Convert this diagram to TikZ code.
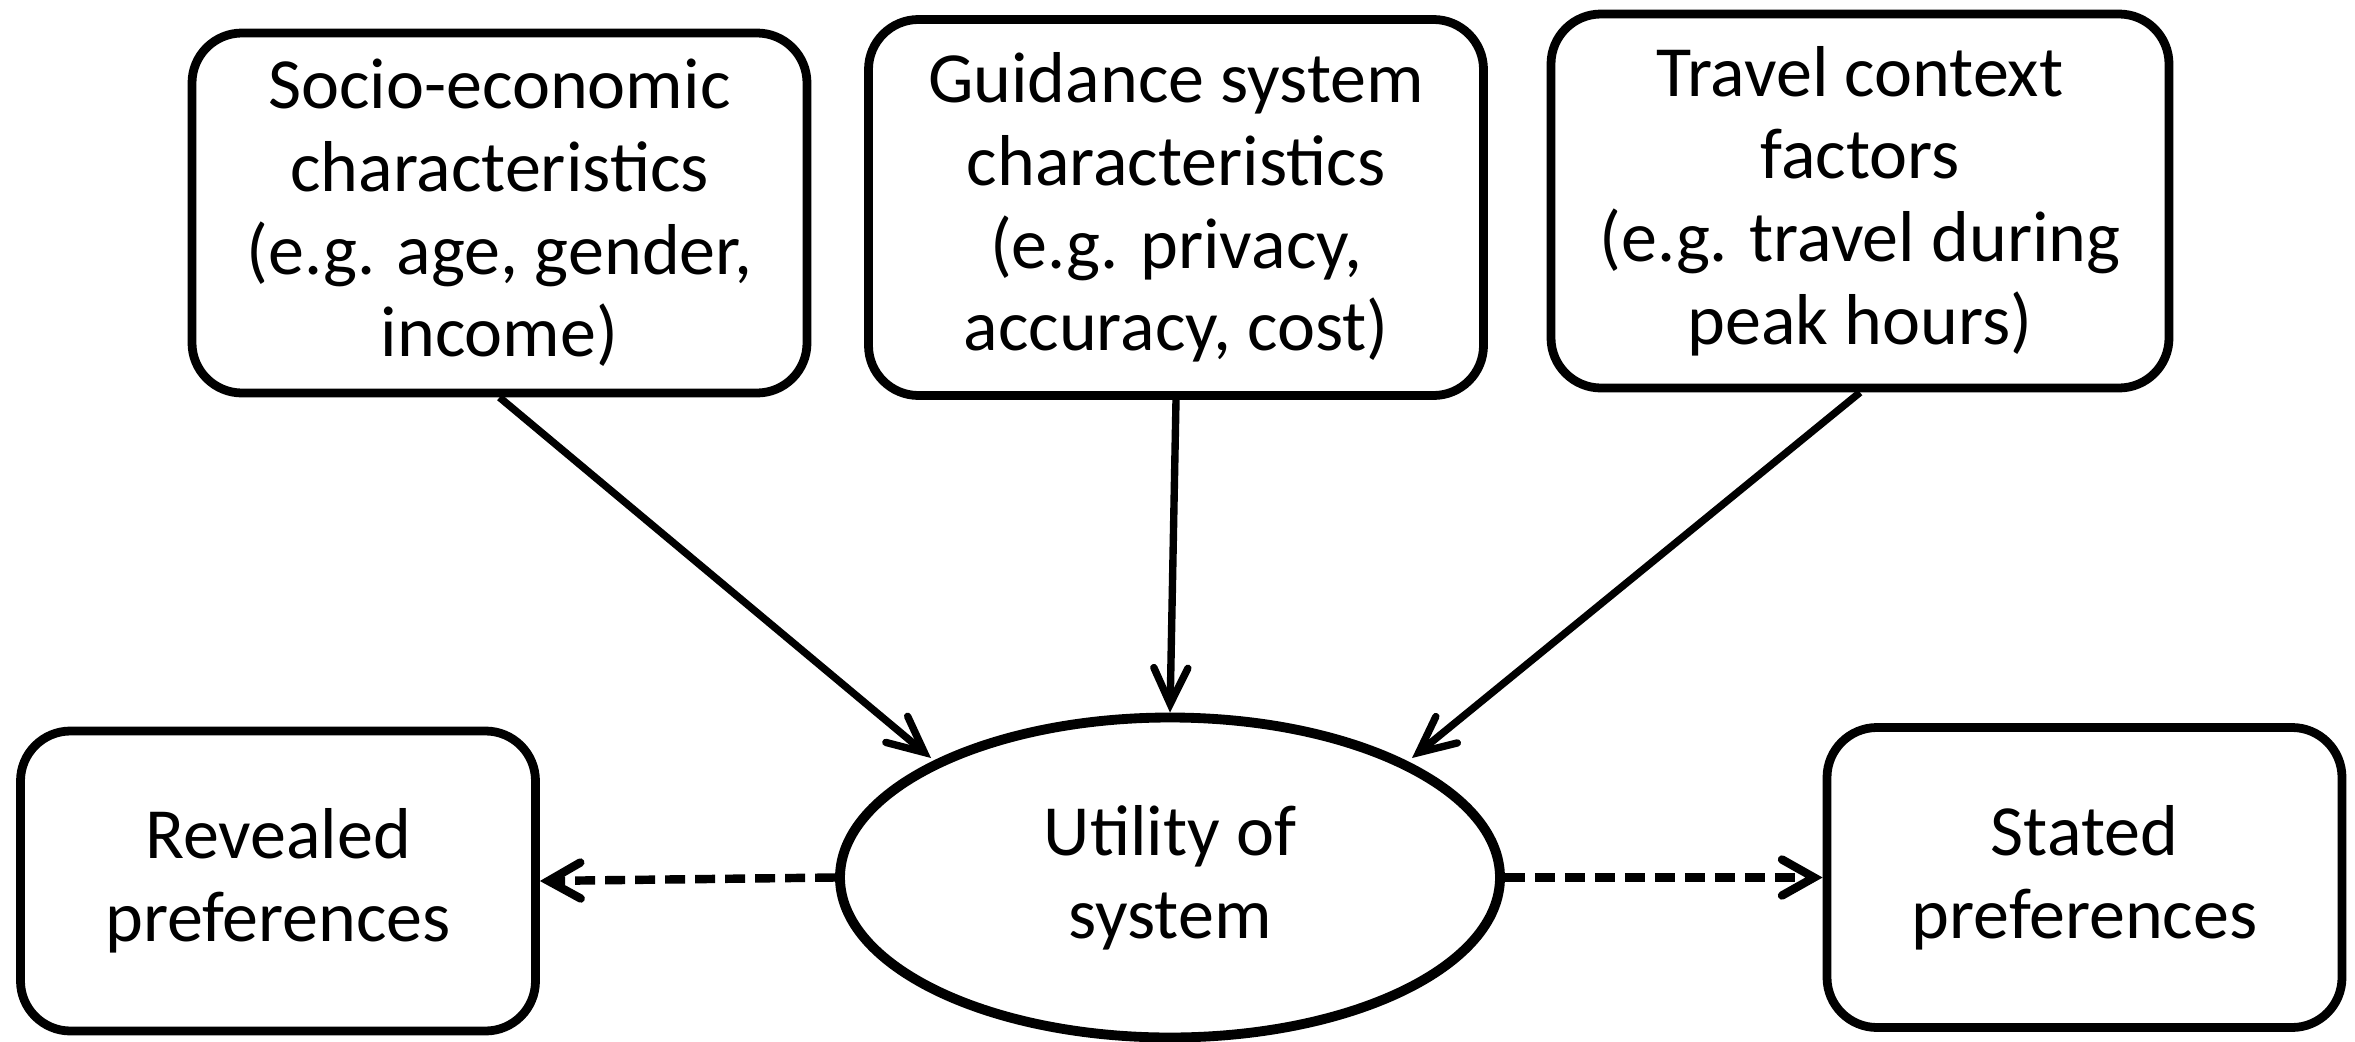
\documentclass[tikz,border=0pt]{standalone}
\usepackage{fontspec}
\setmainfont{Carlito}
\usepackage{tikz}
\usetikzlibrary{arrows.meta,positioning,shapes.geometric}
\tikzset{
  utilbox/.style={
    draw,
    rounded corners=0.5cm,
    line width=2.5pt,
    align=center,
    inner sep=0pt,
    font=\fontsize{20.5}{23.5}\selectfont
  },
  utilfactor/.style={utilbox,minimum width=6.15cm,minimum height=3.6cm},
  utilpref/.style={utilbox,minimum width=5.15cm,minimum height=3.0cm},
  utilcore/.style={ellipse,draw,line width=2.8pt,align=center,inner sep=0pt,
                   minimum width=6.6cm,minimum height=3.2cm,
                   font=\fontsize{20.5}{23.5}\selectfont},
  utilflow/.style={-{Straight Barb[length=3.6mm,width=3.4mm,line cap=round]},
                   line width=2.1pt},
  utilmeasure/.style={-{Straight Barb[length=3.2mm,width=3.6mm,line cap=round]},
                      line width=2.4pt,dash pattern=on 2mm off 1mm}
}
\begin{document}
\begin{tikzpicture}[x=1cm,y=1cm]
  \useasboundingbox (0,0) rectangle (23.55,10.41);

  \node[utilfactor] (socio) at (4.995,8.28)
    {Socio-economic\\characteristics\\(e.g. age, gender,\\income)};
  \node[utilfactor,minimum height=3.76cm] (guide) at (11.76,8.335)
    {Guidance system\\characteristics\\(e.g. privacy,\\accuracy, cost)};
  \node[utilfactor,minimum width=6.18cm,minimum height=3.74cm] (travel) at (18.60,8.40)
    {Travel context\\factors\\(e.g. travel during\\peak hours)};

  \node[utilcore] (utility) at (11.70,1.635) {Utility of\\system};
  \node[utilpref] (revealed) at (2.78,1.60) {Revealed\\preferences};
  \node[utilpref] (stated) at (20.845,1.635) {Stated\\preferences};

  \draw[utilflow] (socio.south) -- (9.31,2.83);
  \draw[utilflow] (guide.south) -- (utility.north);
  \draw[utilflow] (travel.south) -- (14.12,2.83);

  \draw[utilmeasure] (utility.west) -- (revealed.east);
  \draw[utilmeasure] (utility.east) -- (stated.west);
\end{tikzpicture}
\end{document}
